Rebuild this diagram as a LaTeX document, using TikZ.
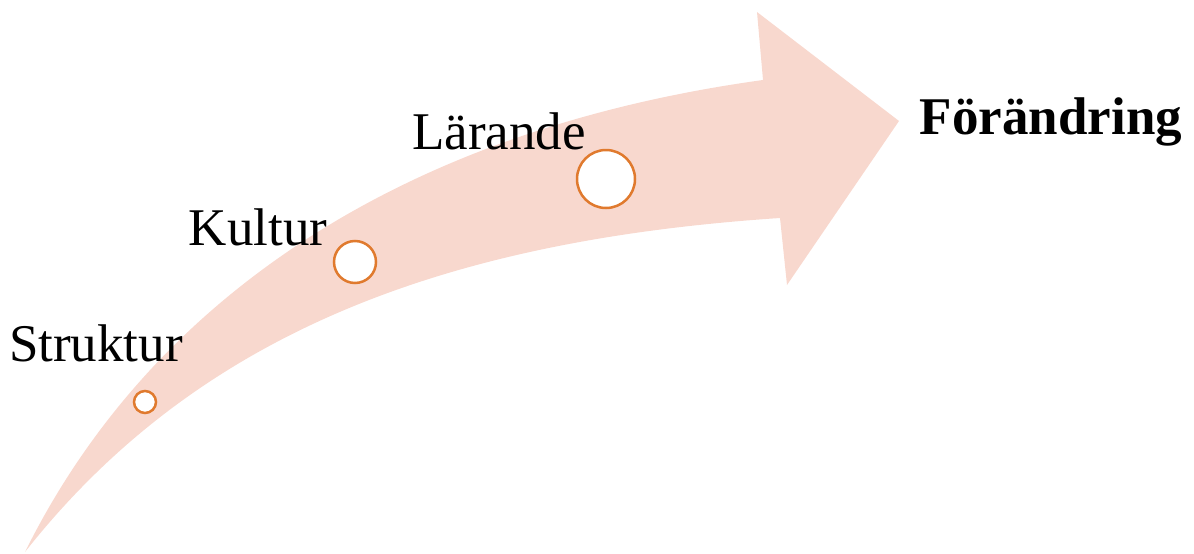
\documentclass[tikz,border=0pt]{standalone}
\usepackage{fontspec}
\setmainfont{Liberation Serif}
\definecolor{band}{HTML}{F8D8CE}
\definecolor{ring}{HTML}{E07A2E}
\begin{document}
\begin{tikzpicture}[x=1pt,y=-1pt,
  lbl/.style={font=\fontsize{53}{60}\selectfont, anchor=base, inner sep=0pt},
  dot/.style={circle, draw=ring, line width=2.5pt, fill=white, inner sep=0pt}]
\useasboundingbox (0,0) rectangle (1194,554);
\fill[band] (25,552) .. controls (150,300) and (400,130) .. (763,80)
  -- (757,12) -- (899,121) -- (787,285) -- (780,218)
  .. controls (450,240) and (200,330) .. (25,552) -- cycle;
\node[dot, minimum size=22pt] (s) at (145,402) {};
\node[dot, minimum size=42pt] (k) at (355,262) {};
\node[dot, minimum size=58pt] (l) at (606,179) {};
\node[lbl] (ts) at (96,361) {Struktur};
\node[lbl] (tk) at (258,245) {Kultur};
\node[lbl] (tl) at (499,149) {Lärande};
\node[lbl, font=\fontsize{53}{60}\selectfont\bfseries] (tf) at (1051,134) {Förändring};
\end{tikzpicture}
\end{document}
